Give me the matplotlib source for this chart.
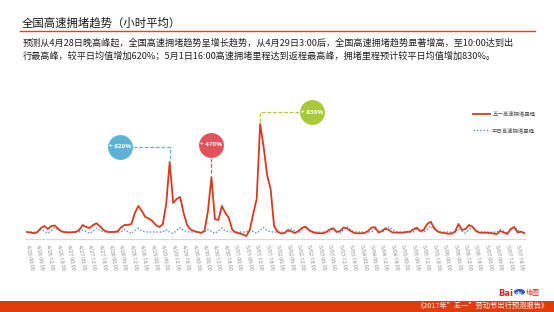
import numpy as np
import matplotlib
matplotlib.use("Agg")
import matplotlib.pyplot as plt
from matplotlib.lines import Line2D
from matplotlib.patches import Rectangle, Circle

plt.rcParams['font.family'] = ['Noto Sans CJK SC', 'DejaVu Sans']

# ---------------- data ----------------
days = ["4/26", "4/27", "4/28", "4/29", "4/30", "5/01", "5/02",
        "5/03", "5/04", "5/05", "5/06", "5/07"]
tick_times = ["00:00", "06:00", "12:00", "18:00"]
tick_labels = [f"{d} {t}" for d in days for t in tick_times]

hours = np.arange(0, 288, 2)  # every 2 hours from 4/26 00:00

holiday = [  # 五一高速拥堵里程
    7, 6.5, 5.8, 7, 11, 13, 10, 13, 13.5, 10, 7.5, 6.7,
    6.5, 6.8, 7, 9, 14, 12, 11, 14, 15.7, 12.5, 9, 7.2,
    7, 7, 7.5, 11.5, 14, 14, 15, 26, 33, 28, 22, 20.5,
    18, 14, 12, 14.5, 35, 77, 36, 40, 42, 26, 14, 9.5,
    8, 7, 6, 8, 28, 62, 20, 19, 33, 26, 21, 9,
    6.5, 5.7, 4.5, 3, 9, 25, 40, 115, 92, 64, 50, 13,
    7.3, 5.5, 6, 9, 7.5, 6, 8, 11, 12.3, 9, 7, 6,
    5.7, 5.7, 7, 9.5, 10.7, 7, 8, 11.5, 10.5, 8, 6, 5.7,
    5.7, 6, 8, 11.5, 11.7, 6.5, 8, 10.7, 9, 6.5, 6.5, 6.3,
    6.3, 7, 7.3, 9.5, 11.3, 8, 9, 15, 17.3, 11, 7.5, 6.3,
    6, 5.2, 5.5, 7.3, 15, 9, 10, 14, 12.3, 8, 6.3, 6.3,
    6.3, 6, 5.5, 5, 8, 6.5, 5, 10, 12, 6.5, 7.3, 5.7,
]

normal = [  # 平日高速拥堵里程
    7.0, 7.0, 6.8, 7.2, 9.5, 8.0, 5.8, 8.5, 11.5, 9.0, 7.5, 7.2,
    7.0, 6.9, 6.8, 7.0, 9.0, 7.5, 5.5, 8.0, 11.0, 8.5, 7.3, 7.1,
    7.0, 7.0, 6.8, 7.0, 9.5, 7.2, 5.5, 8.5, 10.8, 8.0, 7.2, 7.0,
    7.0, 7.0, 6.8, 7.1, 9.2, 7.0, 5.5, 8.5, 11.5, 8.5, 7.3, 7.0,
    6.9, 7.0, 6.8, 7.0, 9.5, 7.5, 5.6, 8.3, 11.0, 8.2, 7.2, 7.0,
    7.0, 6.9, 6.8, 7.1, 9.3, 7.4, 5.8, 8.6, 11.5, 8.4, 7.3, 7.0,
    7.0, 7.0, 6.8, 7.0, 10.0, 8.0, 6.0, 9.0, 12.0, 9.0, 7.5, 7.0,
    6.9, 7.0, 6.8, 7.0, 10.5, 8.0, 6.0, 9.5, 12.5, 9.0, 7.4, 7.1,
    7.0, 7.0, 6.8, 7.0, 10.0, 8.2, 6.2, 9.0, 12.0, 9.2, 7.5, 7.0,
    7.0, 6.9, 6.8, 7.1, 9.8, 8.0, 6.5, 9.5, 13.0, 9.5, 7.5, 7.0,
    7.0, 7.0, 6.8, 7.0, 10.0, 7.8, 6.0, 9.0, 12.0, 9.0, 7.3, 7.0,
    7.0, 6.9, 6.8, 7.0, 9.5, 8.0, 6.0, 9.0, 12.5, 8.8, 7.2, 6.8,
]

legend_labels = ["五一高速拥堵里程", "平日高速拥堵里程"]
badge_texts = ["+ 620%", "+ 470%", "+ 830%"]

title = "全国高速拥堵趋势（小时平均）"
para1 = "预测从4月28日晚高峰起，全国高速拥堵趋势呈增长趋势，从4月29日3:00后，全国高速拥堵趋势显著增高，至10:00达到出"
para2 = "行最高峰，较平日均值增加620%；5月1日16:00高速拥堵里程达到返程最高峰，拥堵里程预计较平日均值增加830%。"
footer = "《2017年”五一”劳动节出行预测报告》"

# ---------------- figure ----------------
W, H = 554, 312
fig = plt.figure(figsize=(W / 100, H / 100), dpi=100)
fig.patch.set_facecolor("white")

def fx(px):
    return px / W

def fy(py):
    return 1 - py / H

# title + underline
fig.text(fx(22), fy(23), title, fontsize=8.2, color="#1a1a1a", va="center", ha="left")
fig.add_artist(Line2D([fx(20), fx(535)], [fy(30.5), fy(30.5)], color="#e8401c", lw=1.0))
fig.text(fx(23), fy(43), para1, fontsize=6.6, color="#222222", va="center", ha="left")
fig.text(fx(23), fy(56), para2, fontsize=6.6, color="#222222", va="center", ha="left")

# footer bar
fig.add_artist(Rectangle((0, 0), 1, fy(300.5), transform=fig.transFigure,
                         facecolor="#e03c0c", edgecolor="none"))
fig.text(fx(548), fy(306), footer, fontsize=5.2, color="white", ha="right", va="center")

# Baidu logo (text approximation)
fig.text(fx(498), fy(293), "Bai", fontsize=6, color="#e02020", fontweight="bold",
         ha="left", va="center", family=["DejaVu Sans"])
fig.add_artist(Circle((fx(519.5), fy(292)), 5.5 / W, transform=fig.transFigure,
                      facecolor="#2a5bd7", edgecolor="none"))
fig.text(fx(519.5), fy(293.5), "du", fontsize=3.4, color="white", fontweight="bold",
         ha="center", va="center", family=["DejaVu Sans"])
fig.text(fx(526), fy(293), "地图", fontsize=5, color="#e02020", ha="left", va="center")

# ---------------- chart ----------------
px_per_h = 1.74
x0_px = 27
left_px, right_px, top_px, bot_px = 25, 525, 100, 239
ax = fig.add_axes([fx(left_px), fy(bot_px), (right_px - left_px) / W, (bot_px - top_px) / H])
ax.set_xlim((left_px - x0_px) / px_per_h, (right_px - x0_px) / px_per_h)
ax.set_ylim(0, bot_px - top_px)
ax.set_facecolor("none")

red_c = "#d63b1f"
blue_c = "#4f8fd0"
ax.plot(hours, normal, color=blue_c, lw=1.0, ls=(0, (1, 1.4)), zorder=2)
ax.plot(hours, holiday, color=red_c, lw=1.3, zorder=3)

for s in ["top", "right", "left"]:
    ax.spines[s].set_visible(False)
ax.spines["bottom"].set_color("#d9d9d9")
ax.spines["bottom"].set_linewidth(0.8)
ax.set_yticks([])
ax.set_xticks(np.arange(0, 288, 6))
ax.set_xticklabels(tick_labels, rotation=-80, ha="left", va="center",
                   rotation_mode="anchor", fontsize=3.8, color="#7f7f7f",
                   family=["Open Sans", "DejaVu Sans"])
ax.tick_params(axis="x", length=0, pad=4)

# legend
leg_handles = [Line2D([], [], color=red_c, lw=1.3),
               Line2D([], [], color=blue_c, lw=1.0, ls=(0, (1, 1.4)))]
leg = ax.legend(leg_handles, legend_labels, loc="upper left",
                bbox_to_anchor=(fx(470), fy(108)), bbox_transform=fig.transFigure,
                frameon=False, fontsize=3.9, handlelength=3.2, handletextpad=0.4,
                labelspacing=2.0, borderpad=0)
for t in leg.get_texts():
    t.set_color("#595959")

# peaks from data
hol = np.array(holiday)
i1 = int(np.argmax(hol[:48]))
i2 = 48 + int(np.argmax(hol[48:60]))
i3 = int(np.argmax(hol))
p1, p2, p3 = hours[i1], hours[i2], hours[i3]

r_h = 13 / px_per_h   # circle radius in hour units
r_v = 13              # circle radius in value units
s_marker = (26 * 0.72) ** 2

c_blue = "#5cb3d6"
c_red = "#e4505c"
c_green = "#a9c83a"
dash = (0, (3, 1.5))

# +620% badge
b1x, b1y = (120 - x0_px) / px_per_h, 92
ax.plot([b1x + r_h, p1, p1], [b1y, b1y, hol[i1] + 2], color=c_blue, lw=0.9, ls=dash, zorder=4)
ax.scatter([b1x], [b1y], s=s_marker, color=c_blue, edgecolor="white", lw=0.8, zorder=5, clip_on=False)
ax.text(b1x, b1y, badge_texts[0], color="white", fontsize=4.6, fontweight="bold",
        ha="center", va="center", zorder=6, family=["Open Sans", "DejaVu Sans"])

# +470% badge
b2x, b2y = p2, 94
ax.plot([p2, p2], [b2y - r_v, hol[i2] + 2], color=c_red, lw=0.9, ls=dash, zorder=4)
ax.scatter([b2x], [b2y], s=s_marker, color=c_red, edgecolor="white", lw=0.8, zorder=5, clip_on=False)
ax.text(b2x, b2y, badge_texts[1], color="white", fontsize=4.6, fontweight="bold",
        ha="center", va="center", zorder=6, family=["Open Sans", "DejaVu Sans"])

# +830% badge
b3x, b3y = (311.7 - x0_px) / px_per_h, 126.7
ax.plot([p3, p3, b3x - r_h], [hol[i3] + 2, b3y, b3y], color=c_green, lw=0.9, ls=dash,
        zorder=4, clip_on=False)
ax.scatter([b3x], [b3y], s=s_marker, color=c_green, edgecolor="white", lw=0.8, zorder=5, clip_on=False)
ax.text(b3x, b3y, badge_texts[2], color="white", fontsize=4.6, fontweight="bold",
        ha="center", va="center", zorder=6, family=["Open Sans", "DejaVu Sans"])

fig.savefig("out.png", dpi=100)
